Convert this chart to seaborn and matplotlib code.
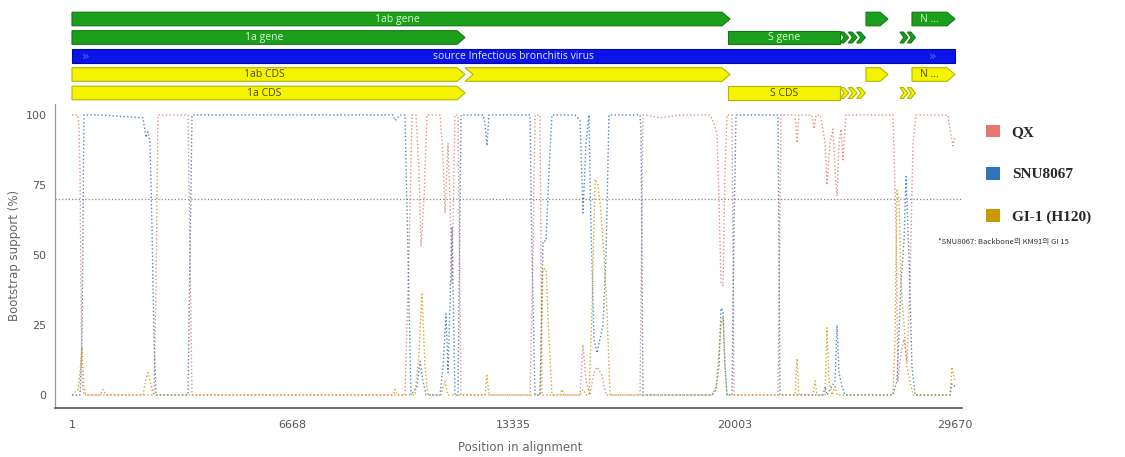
import numpy as np
import pandas as pd
import matplotlib
matplotlib.use("Agg")
import matplotlib.pyplot as plt
from matplotlib.patches import Polygon, Patch
from matplotlib.font_manager import FontProperties
import seaborn as sns

sns.set_style("white")
plt.rcParams["font.family"] = ["DejaVu Sans"]

# ---------------- data ----------------
strains = ["QX", "SNU8067", "GI-1 (H120)"]
strain_colors = ["#e8786c", "#2f74b8", "#c99a00"]

qx_pos = [1, 182, 212, 243, 273, 303, 363, 2477, 2538, 2598, 3504, 3565, 3625,
          10058, 10178, 10269, 10390, 10480, 10541, 10631, 10722, 11115, 11205,
          11266, 11356, 11417, 11477, 11568, 11658, 11749, 13833, 13923, 13984,
          14135, 14195, 15343, 15433, 15524, 15645, 15765, 15856, 16007, 16128,
          17155, 17245, 17306, 17759, 18363, 19269, 19389, 19480, 19540, 19601,
          19661, 19722, 19782, 19933, 19993, 21322, 21413, 21836, 21896, 21956,
          22349, 22409, 22470, 22591, 22651, 22742, 22802, 22893, 22983, 23044,
          23104, 23164, 23225, 23285, 23376, 24795, 24886, 24946, 25037, 25127,
          25218, 25309, 25399, 25490, 26456, 26517, 26607, 26668]
qx_val = [100, 100, 96, 80, 40, 5, 0, 0, 40, 100, 100, 50, 0,
          0, 50, 100, 100, 80, 53, 70, 100, 100, 86,
          65, 90, 70, 40, 100, 100, 0, 0, 50, 100,
          100, 0, 0, 18, 5, 0, 8, 10, 7, 0,
          0, 100, 100, 99, 100, 100, 97, 93, 70, 40,
          39, 80, 100, 100, 0, 0, 100, 100, 90, 100,
          100, 95, 100, 100, 97, 90, 75, 90, 95, 80,
          71, 90, 95, 84, 100, 100, 60, 5, 15, 20,
          12, 40, 90, 100, 100, 95, 89, 92]

snu_pos = [1, 243, 303, 363, 847, 2145, 2236, 2296, 2357, 2417, 2477, 2538,
           3504, 3565, 3625, 9695, 9756, 9907, 10058, 10148, 10239, 10420,
           10511, 10601, 10692, 11115, 11205, 11296, 11356, 11417, 11477, 11568,
           11658, 11749, 12414, 12474, 12534, 12594, 13833, 13893, 13984, 14135, 14225,
           14316, 14406, 14497, 15192, 15343, 15433, 15524, 15614, 15675, 15765,
           15856, 15947, 16037, 16128, 16218, 17155, 17185, 17245, 19329, 19450,
           19540, 19601, 19661, 19722, 19782, 19933, 19993, 20054, 21322, 21383,
           22681, 22742, 22802, 23044, 23104, 23164, 23255, 23346, 24795, 24916,
           25037, 25127, 25188, 25278, 25369, 25460, 26517, 26577, 26668]
snu_val = [0, 0, 20, 100, 100, 99, 92, 94, 90, 60, 20, 0,
           0, 50, 100, 100, 98, 100, 100, 50, 0, 3,
           12, 5, 0, 0, 10, 29, 8, 32, 60, 0,
           0, 100, 100, 97, 89, 100, 100, 50, 0, 0, 55,
           55, 80, 100, 100, 98, 65, 90, 100, 60, 20,
           15, 20, 25, 50, 100, 100, 95, 0, 0, 2,
           10, 31, 30, 10, 0, 0, 60, 100, 100, 0,
           0, 3, 0, 5, 25, 8, 3, 0, 0, 5,
           40, 55, 78, 50, 10, 0, 0, 4, 3]

gi_pos = [1, 182, 243, 303, 363, 424, 847, 937, 1028, 2145, 2236, 2296, 2357,
          2417, 2477, 9695, 9756, 9816, 10360, 10480, 10571, 10662, 10752,
          11145, 11205, 11266, 11356, 12474, 12534, 12594, 14135, 14225, 14316,
          14406, 14497, 14739, 14799, 14859, 15343, 15433, 15524, 15614, 15705,
          15796, 15886, 15977, 16067, 16158, 16249, 19329, 19450, 19540, 19601,
          19661, 19722, 19782, 21836, 21896, 21956, 22379, 22440, 22500, 22742,
          22802, 22862, 22953, 23044, 23104, 24795, 24856, 24916, 24976, 25037,
          25127, 25218, 25309, 25399, 26517, 26577, 26668]
gi_val = [0, 2, 8, 17, 3, 0, 0, 2, 0, 0, 6, 8, 5,
          2, 0, 0, 2, 0, 0, 15, 36, 10, 0,
          0, 3, 5, 0, 0, 7, 0, 0, 45, 45,
          20, 0, 0, 2, 0, 0, 2, 0, 0, 30,
          77, 75, 65, 50, 30, 0, 0, 3, 15, 25,
          28, 10, 0, 0, 13, 0, 0, 5, 0, 0,
          24, 5, 0, 3, 0, 0, 20, 73, 70, 40,
          25, 10, 5, 0, 0, 10, 5]

x_tick_pos = [1, 6668, 13335, 20003, 26670]
x_tick_labels = ["1", "6668", "13335", "20003", "29670"]
y_ticks = [0, 25, 50, 75, 100]
threshold = 70

# genome map features
feat_label = ["1ab gene", "", "N ...",
              "1a gene", "S gene", "", "",
              "source Infectious bronchitis virus",
              "1ab CDS", "", "", "N ...",
              "1a CDS", "S CDS", "", ""]
feat_start = [1, 23980, 25369,
              1, 19812, 23195, 25007,
              1,
              1, 11870, 23980, 25369,
              1, 19812, 23195, 25007]
feat_end = [19873, 24644, 26668,
            11870, 23195, 23950, 25460,
            26668,
            11870, 19873, 24644, 26668,
            11870, 23195, 23950, 25460]
feat_track = [0, 0, 0, 1, 1, 1, 1, 2, 3, 3, 3, 3, 4, 4, 4, 4]
feat_kind = ["gene", "gene", "gene", "gene", "gene", "gene", "gene", "source",
             "cds", "cds", "cds", "cds", "cds", "cds", "cds", "cds"]
feat_shape = ["arrow", "arrow", "arrow", "arrow", "bar", "chev3", "chev2", "bar",
              "arrow", "notch", "arrow", "arrow", "arrow", "bar", "chev3", "chev2"]

# ---------------- figure ----------------
W, H = 1125, 457
fig = plt.figure(figsize=(W / 100, H / 100), dpi=100)

xl = (-512, 26879)
ax = fig.add_axes([55 / W, 49.4 / H, (962 - 55) / W, 303.8 / H])

df = pd.concat([
    pd.DataFrame({"position": qx_pos, "support": qx_val, "strain": strains[0]}),
    pd.DataFrame({"position": snu_pos, "support": snu_val, "strain": strains[1]}),
    pd.DataFrame({"position": gi_pos, "support": gi_val, "strain": strains[2]}),
])
palette = dict(zip(strains, strain_colors))
sns.lineplot(data=df, x="position", y="support", hue="strain", palette=palette,
             estimator=None, sort=False, linewidth=1.0, linestyle=":",
             legend=False, ax=ax, alpha=0.85)

ax.axhline(threshold, color="#888888", linestyle=":", linewidth=0.9, zorder=0)
ax.set_xlim(*xl)
ax.set_ylim(-4.5, 104)
ax.set_xticks(x_tick_pos)
ax.set_xticklabels(x_tick_labels)
ax.set_yticks(y_ticks)
ax.tick_params(axis="x", direction="in", length=4, pad=9, labelsize=8, colors="#555555")
ax.tick_params(axis="y", direction="in", length=4, pad=6, labelsize=8, colors="#555555")
for s in ["top", "right"]:
    ax.spines[s].set_visible(False)
ax.spines["left"].set_color("#999999")
ax.spines["left"].set_linewidth(0.9)
ax.spines["bottom"].set_color("#555555")
ax.spines["bottom"].set_linewidth(1.2)
ax.set_xlabel("Position in alignment", fontsize=8.5, color="#666666")
ax.set_ylabel("Bootstrap support (%)", fontsize=8.5, color="#666666")
ax.xaxis.set_label_coords((520 - 55) / (962 - 55), -0.11)
ax.yaxis.set_label_coords(-0.037, 0.5)

# ---------------- genome map ----------------
axm = fig.add_axes([55 / W, (H - 103) / H, (962 - 55) / W, 95 / H])
axm.set_xlim(*xl)
axm.set_ylim(103, 8)
axm.axis("off")

face = {"gene": "#1c9f1c", "source": "#0a14ea", "cds": "#f4f400"}
edge = {"gene": "#0f7a0f", "source": "#05089a", "cds": "#b5b500"}
tcol = {"gene": "#dcf7cf", "source": "#e6e8ff", "cds": "#4e4500"}
tip = 8 * 30.2
hh = 6.8
for lab, s, e, tr, kind, shp in zip(feat_label, feat_start, feat_end, feat_track,
                                    feat_kind, feat_shape):
    yc = 19 + 18.5 * tr
    polys = []
    if shp == "arrow":
        polys.append([(s, yc - hh), (e - tip, yc - hh), (e, yc), (e - tip, yc + hh), (s, yc + hh)])
    elif shp == "notch":
        polys.append([(s, yc - hh), (e - tip, yc - hh), (e, yc), (e - tip, yc + hh),
                      (s, yc + hh), (s + tip, yc)])
    elif shp == "bar":
        polys.append([(s, yc - hh), (e, yc - hh), (e, yc + hh), (s, yc + hh)])
    else:
        n = 3 if shp == "chev3" else 2
        w = (e - s) / n
        for k in range(n):
            a = s + k * w
            polys.append([(a, yc - hh * 0.8), (a + w * 0.45, yc - hh * 0.8), (a + w * 1.05, yc),
                          (a + w * 0.45, yc + hh * 0.8), (a, yc + hh * 0.8), (a + w * 0.5, yc)])
    for p in polys:
        axm.add_patch(Polygon(p, closed=True, facecolor=face[kind], edgecolor=edge[kind],
                              linewidth=0.8))
    if lab:
        cx = (s + e) / 2 if shp != "arrow" else (s + e - tip) / 2
        axm.text(cx, yc + 0.3, lab, ha="center", va="center", fontsize=7.5,
                 family="Open Sans", color=tcol[kind])
    if kind == "source":
        axm.text(s + 300, yc + 0.3, "»", ha="left", va="center", fontsize=9,
                 color="#5a6cf5")
        axm.text(e - 800, yc + 0.3, "»", ha="left", va="center", fontsize=9,
                 color="#5a6cf5")

# ---------------- legend ----------------
handles = [Patch(facecolor=c, edgecolor="none") for c in strain_colors]
fig.legend(handles, strains, loc="upper left", bbox_to_anchor=(972 / W, 1 - 111 / H),
           frameon=False, handlelength=0.9, handleheight=0.9, labelspacing=1.8,
           handletextpad=0.8,
           prop=FontProperties(family="Liberation Serif", weight="bold", size=11))
fig.text(938 / W, 1 - 242 / H, "*SNU8067: Backbone의 KM91의 GI 15", fontsize=5.5,
         family=["Noto Sans CJK KR", "DejaVu Sans"], va="center", ha="left",
         color="#333333")

fig.savefig("out.png", dpi=100)
